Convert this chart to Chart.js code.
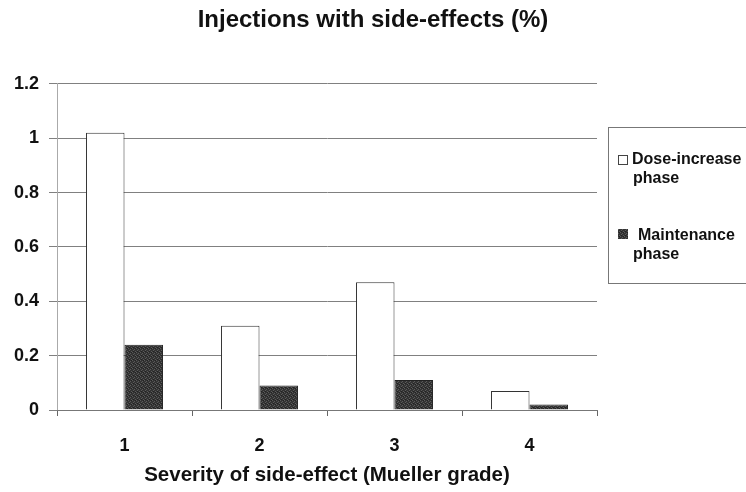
<!DOCTYPE html>
<html>
<head>
<meta charset="utf-8">
<script src="https://cdn.jsdelivr.net/npm/chart.js@4.4.1/dist/chart.umd.min.js"></script>
<style>
  html, body { margin: 0; padding: 0; background: #fff; }
  #wrap { width: 746px; height: 492px; }
</style>
</head>
<body>
<div id="wrap"><canvas id="sideChart" width="746" height="492"></canvas></div>
<script>
// ── Injections with side-effects ──

const grades = ['1', '2', '3', '4'];
const doseIncrease = [1.02, 0.31, 0.47, 0.07];
const maintenance = [0.24, 0.09, 0.11, 0.02];
const yTicks = [0, 0.2, 0.4, 0.6, 0.8, 1, 1.2];
const legendLines = [['Dose-increase', 'phase'], ['Maintenance', 'phase']];

const FONT = 'Liberation Sans, Arial, Helvetica, sans-serif';

// dark stippled fill like the scanned print
function stipple() {
  const c = document.createElement('canvas');
  c.width = 4; c.height = 4;
  const g = c.getContext('2d');
  g.fillStyle = '#333'; g.fillRect(0, 0, 4, 4);
  g.fillStyle = '#5a5a5a';
  g.fillRect(0, 0, 1, 1); g.fillRect(2, 1, 1, 1); g.fillRect(1, 2, 1, 1); g.fillRect(3, 3, 1, 1);
  g.fillStyle = '#222';
  g.fillRect(3, 0, 1, 1); g.fillRect(1, 3, 1, 1);
  return g.createPattern(c, 'repeat');
}
const darkFill = stipple();

// legend box on the right, drawn by hand
const boxLegend = {
  id: 'boxLegend',
  afterDraw(chart) {
    const ctx = chart.ctx;
    ctx.save();
    ctx.strokeStyle = '#777'; ctx.lineWidth = 1;
    ctx.strokeRect(608.5, 127.5, 140, 156);
    ctx.font = 'bold 16px ' + FONT;
    ctx.fillStyle = '#111';
    ctx.textBaseline = 'middle';
    // dose-increase
    ctx.fillStyle = '#fff'; ctx.fillRect(618.5, 155.5, 9, 9);
    ctx.strokeStyle = '#444'; ctx.strokeRect(618.5, 155.5, 9, 9);
    ctx.fillStyle = '#111';
    ctx.fillText(legendLines[0][0], 632, 160);
    ctx.fillText(legendLines[0][1], 633, 179);
    // maintenance
    ctx.fillStyle = darkFill; ctx.fillRect(618, 229, 10, 10);
    ctx.fillStyle = '#111';
    ctx.fillText(legendLines[1][0], 638, 236);
    ctx.fillText(legendLines[1][1], 633, 255);
    ctx.restore();
  }
};

new Chart(document.getElementById('sideChart').getContext('2d'), {
  type: 'bar',
  data: {
    labels: grades,
    datasets: [{
      label: 'Dose-increase phase',
      data: doseIncrease,
      backgroundColor: '#fff', borderColor: '#333', borderWidth: 1,
      categoryPercentage: 0.57, barPercentage: 1
    }, {
      label: 'Maintenance phase',
      data: maintenance,
      backgroundColor: darkFill, borderColor: '#222', borderWidth: 1,
      categoryPercentage: 0.57, barPercentage: 1
    }]
  },
  options: {
    responsive: false, animation: false,
    layout: { padding: 0 },
    plugins: {
      legend: { display: false },
      tooltip: { enabled: false },
      title: {
        display: true, text: 'Injections with side-effects (%)',
        color: '#111', font: { family: FONT, size: 24, weight: 'bold', lineHeight: 1.2 },
        padding: { top: 6, bottom: 49 }
      }
    },
    scales: {
      y: {
        min: 0, max: 1.2,
        afterFit(s) { s.width = 57; },
        afterBuildTicks(s) { s.ticks = yTicks.map(v => ({ value: v })); },
        grid: { color: '#808080', tickLength: 8, drawTicks: true },
        border: { color: '#aaa' },
        ticks: {
          padding: 10, color: '#111',
          font: { family: FONT, size: 18, weight: 'bold' },
          callback: v => String(v)
        }
      },
      // empty right-hand strip that leaves room for the legend box
      side: {
        position: 'right', min: 0, max: 1.2,
        afterFit(s) { s.width = 149; },
        grid: { display: false }, border: { display: false },
        ticks: { display: false }
      },
      x: {
        afterFit(s) { s.height = 82; },
        grid: { drawOnChartArea: false, drawTicks: true, tickLength: 6, color: '#666', offset: true },
        border: { color: '#777' },
        ticks: {
          padding: 19, color: '#111',
          font: { family: FONT, size: 18, weight: 'bold' }
        },
        title: {
          display: true, text: 'Severity of side-effect (Mueller grade)',
          color: '#111', font: { family: FONT, size: 20.5, weight: 'bold', lineHeight: 1.2 },
          padding: { top: 4, bottom: 4 }
        }
      }
    }
  },
  plugins: [boxLegend]
});
</script>
</body>
</html>
